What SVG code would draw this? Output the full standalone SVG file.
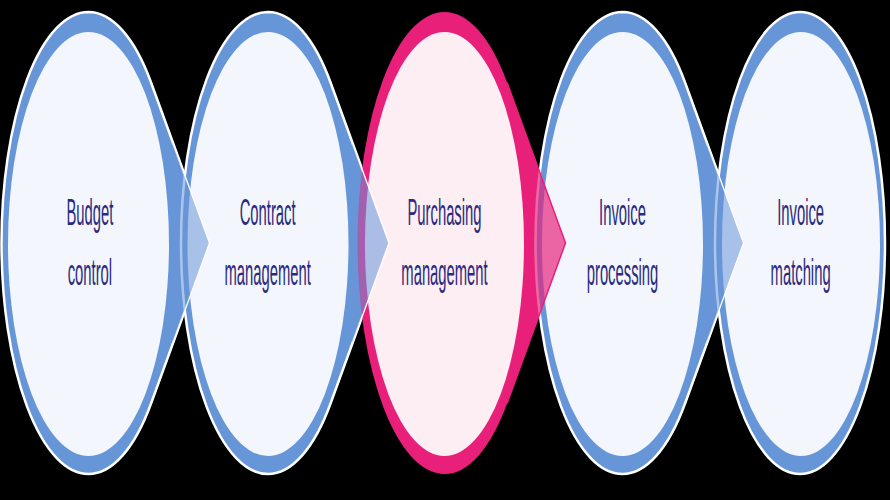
<svg xmlns="http://www.w3.org/2000/svg" xmlns:xlink="http://www.w3.org/1999/xlink" width="890" height="500" viewBox="0 0 890 500">
  <style>
    .bg { fill: #000000; }
    .outer-b { fill: #6796d8; stroke: #ffffff; stroke-width: 2.5; stroke-linejoin: miter; }
    .inner-b { fill: #f3f6fc; }
    .outer-p { fill: #e8207a; stroke: none; }
    .inner-p { fill: #fdeef4; }
    .label { font-family: "Liberation Sans", Arial, sans-serif; font-size: 37px; fill: #2c2a7e; text-anchor: middle; }
    .arrow-fill-b { fill: #6796d8; fill-opacity: 0.55; stroke: none; }
    .arrow-line-b { fill: none; stroke: #ffffff; stroke-width: 1.3; }
    .arrow-fill-p { fill: #e8207a; fill-opacity: 0.68; stroke: none; }
    .arrow-line-p { fill: none; stroke: #e8207a; stroke-width: 1.5; }
  </style>
  <defs>
    <path id="tip-shape" d="M0,12 A87,231 0 0 1 62.55,82.5 L121,243 L62.55,403.5 A87,231 0 0 1 0,474 A87,231 0 0 1 -87,243 A87,231 0 0 1 0,12 Z"/>
    <path id="tip-fill" d="M62.55,82.5 L121,243 L62.55,403.5 Z"/>
    <path id="tip-line" d="M62.55,82.5 L121,243 L62.55,403.5"/>
    <clipPath id="clip-right" clipPathUnits="userSpaceOnUse">
      <rect x="84" y="0" width="60" height="500"/>
    </clipPath>
    <g id="shape-blue">
      <use xlink:href="#tip-shape" href="#tip-shape" class="outer-b"/>
      <ellipse class="inner-b" cx="0" cy="244" rx="80.5" ry="212"/>
    </g>
    <g id="shape-pink">
      <use xlink:href="#tip-shape" href="#tip-shape" class="outer-p"/>
      <ellipse class="inner-p" cx="0" cy="244" rx="79.5" ry="212"/>
    </g>
  </defs>

  <rect class="bg" x="0" y="0" width="890" height="500"/>

  <g id="node-budget-control" transform="translate(88.5,0)">
    <use xlink:href="#shape-blue" href="#shape-blue"/>
    <g transform="scale(0.4,1)">
      <text class="label" x="3.5" y="225">Budget</text>
      <text class="label" x="3.5" y="285">control</text>
    </g>
  </g>

  <g id="node-contract-management" transform="translate(268,0)">
    <use xlink:href="#shape-blue" href="#shape-blue"/>
    <g transform="scale(0.4,1)">
      <text class="label" x="-1" y="225">Contract</text>
      <text class="label" x="-1" y="285">management</text>
    </g>
  </g>

  <g id="node-purchasing-management" transform="translate(444.5,0)">
    <use xlink:href="#shape-pink" href="#shape-pink"/>
    <g transform="scale(0.4,1)">
      <text class="label" x="0" y="225">Purchasing</text>
      <text class="label" x="0" y="285">management</text>
    </g>
  </g>

  <g id="node-invoice-processing" transform="translate(622.5,0)">
    <use xlink:href="#shape-blue" href="#shape-blue"/>
    <g transform="scale(0.4,1)">
      <text class="label" x="0" y="225">Invoice</text>
      <text class="label" x="0" y="285">processing</text>
    </g>
  </g>

  <g id="node-invoice-matching" transform="translate(801,0)">
    <ellipse class="outer-b" cx="-1" cy="243" rx="85" ry="231"/>
    <ellipse class="inner-b" cx="0" cy="244" rx="79" ry="212"/>
    <g transform="scale(0.4,1)">
      <text class="label" x="-1" y="225">Invoice</text>
      <text class="label" x="-1" y="285">matching</text>
    </g>
  </g>

  <g id="connectors">
    <g transform="translate(88.5,0)">
      <use xlink:href="#tip-fill" href="#tip-fill" class="arrow-fill-b" clip-path="url(#clip-right)"/>
      <use xlink:href="#tip-line" href="#tip-line" class="arrow-line-b"/>
    </g>
    <g transform="translate(268,0)">
      <use xlink:href="#tip-fill" href="#tip-fill" class="arrow-fill-b" clip-path="url(#clip-right)"/>
      <use xlink:href="#tip-line" href="#tip-line" class="arrow-line-b"/>
    </g>
    <g transform="translate(444.5,0)">
      <use xlink:href="#tip-fill" href="#tip-fill" class="arrow-fill-p" clip-path="url(#clip-right)"/>
      <use xlink:href="#tip-line" href="#tip-line" class="arrow-line-p"/>
    </g>
    <g transform="translate(622.5,0)">
      <use xlink:href="#tip-fill" href="#tip-fill" class="arrow-fill-b" clip-path="url(#clip-right)"/>
      <use xlink:href="#tip-line" href="#tip-line" class="arrow-line-b"/>
    </g>
  </g>
</svg>
